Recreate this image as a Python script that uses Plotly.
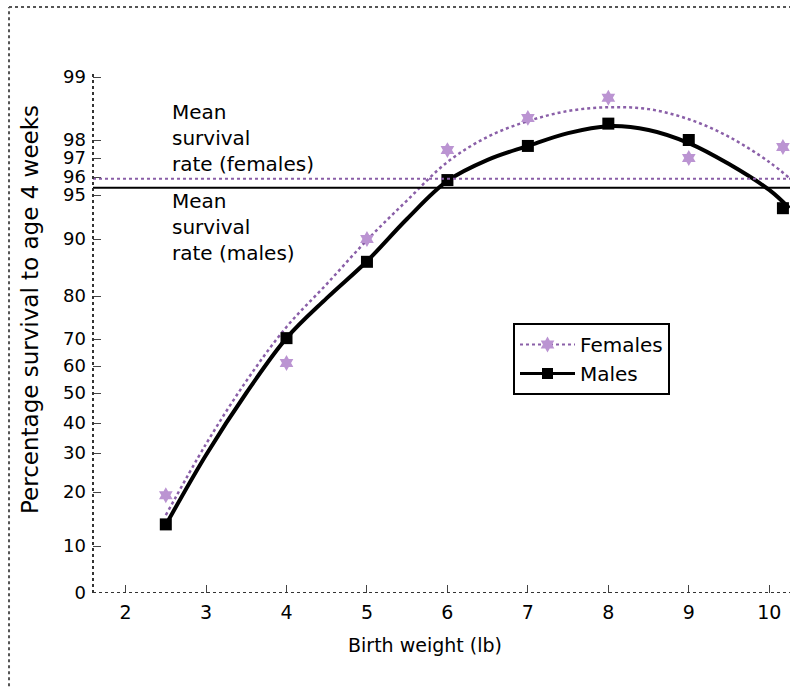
import numpy as np
import plotly.graph_objects as go

# ---- axis scale (the chart's non-linear survival axis) ----
Y_TICK_VALUES = [0, 10, 20, 30, 40, 50, 60, 70, 80, 90, 95, 96, 97, 98, 99]
Y_TICK_POS = [0, 47, 101, 140, 170, 200, 227, 254, 297, 354, 398, 416, 435, 453, 516]
X_TICKS = [2, 3, 4, 5, 6, 7, 8, 9, 10]

def yscale(v):
    return np.interp(np.asarray(v, dtype=float), Y_TICK_VALUES, Y_TICK_POS)

# ---- data ----
birth_weight = [2.5, 4, 5, 6, 7, 8, 9, 10.17]
female_survival = [19.4, 61.1, 90.0, 97.44, 98.35, 98.67, 97.0, 97.61]
male_survival = [14.0, 70.2, 86.0, 95.83, 97.67, 98.26, 98.0, 93.5]

curve_weight = [2.5, 3, 3.5, 4, 4.5, 5, 5.5, 6, 6.5, 7, 7.5, 8, 8.5, 9, 9.5, 10, 10.25]
female_curve = [15.7, 33.0, 54.4, 72.8, 82.1, 89.8, 94.4, 96.79, 98.05, 98.30, 98.46,
                98.52, 98.49, 98.33, 98.05, 96.79, 95.94]
male_curve = [13.9, 29.5, 50.0, 70.2, 79.5, 86.1, 92.3, 95.78, 96.9, 97.67, 98.11,
              98.22, 98.16, 97.83, 96.68, 95.28, 93.5]

female_mean = 95.9
male_mean = 95.4

FEM_COLOR = "#bb94d2"
FEM_LINE = "#8a5fa8"
FONT = "DejaVu Sans"

fig = go.Figure()

# fitted curves
fig.add_trace(go.Scatter(x=curve_weight, y=yscale(female_curve), mode="lines",
                         line=dict(color=FEM_LINE, width=2.5, dash="dot", shape="spline"),
                         showlegend=False, hoverinfo="skip"))
fig.add_trace(go.Scatter(x=curve_weight, y=yscale(male_curve), mode="lines",
                         line=dict(color="black", width=4, shape="spline"),
                         showlegend=False, hoverinfo="skip"))
# observed points
fig.add_trace(go.Scatter(x=birth_weight, y=yscale(female_survival), mode="markers",
                         marker=dict(symbol="hexagram", size=12, color=FEM_COLOR),
                         showlegend=False))
fig.add_trace(go.Scatter(x=birth_weight, y=yscale(male_survival), mode="markers",
                         marker=dict(symbol="square", size=12, color="black"),
                         showlegend=False))
# legend entries
fig.add_trace(go.Scatter(x=[None], y=[None], mode="lines+markers", name="Females",
                         line=dict(color=FEM_LINE, width=2, dash="dot"),
                         marker=dict(symbol="hexagram", size=12, color=FEM_COLOR)))
fig.add_trace(go.Scatter(x=[None], y=[None], mode="lines+markers", name="Males",
                         line=dict(color="black", width=3),
                         marker=dict(symbol="square", size=11, color="black")))

shapes = [
    # mean lines
    dict(type="line", xref="paper", yref="y", x0=0, x1=1,
         y0=float(yscale(female_mean)), y1=float(yscale(female_mean)),
         line=dict(color=FEM_LINE, width=2, dash="dot")),
    dict(type="line", xref="paper", yref="y", x0=0, x1=1,
         y0=float(yscale(male_mean)), y1=float(yscale(male_mean)),
         line=dict(color="black", width=2)),
    # dotted axes
    dict(type="line", xref="paper", yref="y", x0=0, x1=0, y0=0, y1=519,
         line=dict(color="#333333", width=2, dash="dot")),
    dict(type="line", xref="paper", yref="y", x0=0, x1=1, y0=0, y1=0,
         line=dict(color="#333333", width=2, dash="dot")),
    # dotted frame
    dict(type="line", xref="paper", yref="paper", x0=-0.1205, x1=-0.1205, y0=-0.19, y1=1.1205,
         line=dict(color="#555555", width=2, dash="dot")),
    dict(type="line", xref="paper", yref="paper", x0=-0.1205, x1=1.0, y0=1.1205, y1=1.1205,
         line=dict(color="#555555", width=2, dash="dot")),
]

annotations = [
    dict(text="Mean<br>survival<br>rate (females)", xref="paper", yref="paper",
         x=(170 - 93) / 697, y=(593 - 138) / 523, xanchor="left", yanchor="middle",
         align="left", showarrow=False, font=dict(family=FONT, size=20, color="black")),
    dict(text="Mean<br>survival<br>rate (males)", xref="paper", yref="paper",
         x=(170 - 93) / 697, y=(593 - 227) / 523, xanchor="left", yanchor="middle",
         align="left", showarrow=False, font=dict(family=FONT, size=20, color="black")),
    dict(text="Birth weight (lb)", xref="paper", yref="paper",
         x=(425 - 93) / 697, y=(593 - 645) / 523, xanchor="center", yanchor="middle",
         showarrow=False, font=dict(family=FONT, size=19, color="black")),
    dict(text="Percentage survival to age 4 weeks", xref="paper", yref="paper",
         x=(30 - 93) / 697, y=(593 - 310) / 523, xanchor="center", yanchor="middle",
         textangle=-90, showarrow=False, font=dict(family=FONT, size=23, color="black")),
]

fig.update_layout(
    width=790, height=689,
    margin=dict(l=93, r=0, t=70, b=96),
    paper_bgcolor="white", plot_bgcolor="white",
    font=dict(family=FONT, size=19, color="black"),
    shapes=shapes, annotations=annotations,
    legend=dict(x=(513 - 93) / 697, y=(593 - 323) / 523, xanchor="left", yanchor="top",
                bgcolor="white", bordercolor="black", borderwidth=2,
                font=dict(family=FONT, size=20), itemwidth=55, tracegroupgap=0),
    xaxis=dict(range=[1.595, 10.258], tickvals=X_TICKS, ticktext=[str(t) for t in X_TICKS],
               ticks="inside", ticklen=8, tickwidth=1, tickcolor="#444444",
               showgrid=False, zeroline=False, showline=False,
               tickfont=dict(family=FONT, size=19), ticklabelstandoff=6),
    yaxis=dict(range=[0, 523], tickvals=list(yscale(Y_TICK_VALUES)),
               ticktext=[str(v) for v in Y_TICK_VALUES],
               ticks="inside", ticklen=8, tickwidth=1, tickcolor="#444444",
               showgrid=False, zeroline=False, showline=False,
               tickfont=dict(family=FONT, size=18), ticklabelstandoff=6),
)

fig.write_html("out.html")
